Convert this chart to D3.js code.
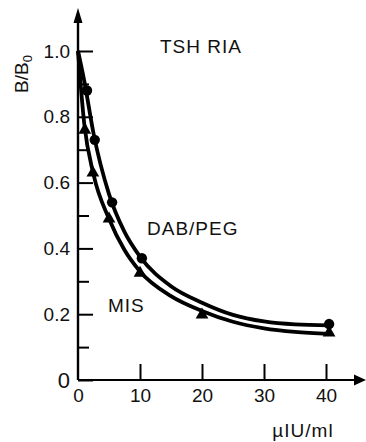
<!DOCTYPE html>
<html>
<head>
<meta charset="utf-8">
<script src="https://cdn.jsdelivr.net/npm/d3@7"></script>
<style>
  html, body { margin: 0; padding: 0; background: #fff; }
  svg { display: block; }
  text { font-family: "Liberation Sans", Arial, sans-serif; fill: #111; }
</style>
</head>
<body>
<svg id="chart" width="366" height="442"></svg>
<script>
// Measured points: DAB/PEG (filled circles) and MIS (filled triangles)
const dabDose = [1.45, 2.7, 5.5, 10.3, 40.5];
const dabB = [0.88, 0.73, 0.54, 0.37, 0.17];
const misDose = [1.1, 2.4, 5.0, 10.0, 20.0, 40.5];
const misB = [0.76, 0.63, 0.49, 0.325, 0.198, 0.143];

// Fitted standard curves
const curveDose = [0, 1, 2.5, 5, 7.5, 10, 15, 20, 25, 30, 35, 40.5];
const dabCurve = [1.0, 0.91, 0.75, 0.565, 0.45, 0.375, 0.285, 0.235, 0.198, 0.178, 0.169, 0.166];
const misCurve = [1.0, 0.78, 0.625, 0.49, 0.395, 0.33, 0.255, 0.21, 0.177, 0.157, 0.146, 0.14];

// Axis ticks
const xTicks = [0, 10, 20, 30, 40];
const yMajor = [0, 0.2, 0.4, 0.6, 0.8, 1.0];
const yMinor = [0.1, 0.3, 0.5, 0.7, 0.9];

const svg = d3.select("#chart");
const x = d3.scaleLinear().domain([0, 40]).range([78, 326]);
const y = d3.scaleLinear().domain([0, 1]).range([380, 51]);

// Axis lines with arrowheads
svg.append("line").attr("x1", x(0)).attr("x2", 358).attr("y1", y(0)).attr("y2", y(0))
  .attr("stroke", "#000").attr("stroke-width", 2.2);
svg.append("path").attr("d", `M366,${y(0)} L354,${y(0) - 5.5} L354,${y(0) + 5.5} Z`).attr("fill", "#000");
svg.append("line").attr("x1", x(0)).attr("x2", x(0)).attr("y1", y(0)).attr("y2", 20)
  .attr("stroke", "#000").attr("stroke-width", 2.4);
svg.append("path").attr("d", `M${x(0)},8 L${x(0) - 4.5},23 L${x(0) + 4.5},23 Z`).attr("fill", "#000");

// Y axis ticks (pointing into the plot) and labels
const yAxis = svg.append("g").attr("transform", `translate(${x(0)},0)`)
  .call(d3.axisLeft(y).tickValues(yMajor).tickSize(-15).tickPadding(8)
    .tickFormat(d => d === 0 ? "0" : d.toFixed(1)));
yAxis.select(".domain").remove();
yAxis.selectAll("line").attr("stroke", "#000").attr("stroke-width", 2);
yAxis.selectAll("text")
  .attr("font-size", d => d === 0 ? 22 : 19)
  .style("font-family", "Liberation Sans, Arial, sans-serif");

const yMinorAxis = svg.append("g").attr("transform", `translate(${x(0)},0)`)
  .call(d3.axisLeft(y).tickValues(yMinor).tickSize(-11).tickFormat(""));
yMinorAxis.select(".domain").remove();
yMinorAxis.selectAll("line").attr("stroke", "#000").attr("stroke-width", 2);

// X axis ticks (pointing up) and labels
const xAxis = svg.append("g").attr("transform", `translate(0,${y(0)})`)
  .call(d3.axisBottom(x).tickValues(xTicks).tickSize(-16).tickPadding(9).tickFormat(d3.format("d")));
xAxis.select(".domain").remove();
xAxis.selectAll("line").attr("stroke", "#000").attr("stroke-width", 2)
  .attr("display", d => d === 0 ? "none" : null);
xAxis.selectAll("text").attr("font-size", 19).style("font-family", "Liberation Sans, Arial, sans-serif");

// Curves
const line = d3.line().x(d => x(d[0])).y(d => y(d[1])).curve(d3.curveMonotoneX);
[dabCurve, misCurve].forEach(vals => {
  svg.append("path")
    .datum(curveDose.map((d, i) => [d, vals[i]]))
    .attr("d", line)
    .attr("fill", "none")
    .attr("stroke", "#000")
    .attr("stroke-width", 3.8)
    .attr("stroke-linejoin", "round");
});

// Markers
svg.append("g").selectAll("circle")
  .data(dabDose.map((d, i) => [d, dabB[i]]))
  .join("circle")
  .attr("cx", d => x(d[0])).attr("cy", d => y(d[1])).attr("r", 5.2).attr("fill", "#000");

const tri = d3.symbol().type(d3.symbolTriangle).size(70);
svg.append("g").selectAll("path")
  .data(misDose.map((d, i) => [d, misB[i]]))
  .join("path")
  .attr("d", tri)
  .attr("transform", d => `translate(${x(d[0])},${y(d[1])})`)
  .attr("fill", "#000");

// Annotations
svg.append("text").attr("x", 160).attr("y", 53).attr("font-size", 19).attr("letter-spacing", 1).text("TSH RIA");
svg.append("text").attr("x", 147).attr("y", 235).attr("font-size", 19).attr("letter-spacing", 1).text("DAB/PEG");
svg.append("text").attr("x", 108).attr("y", 312).attr("font-size", 19).attr("letter-spacing", 1).text("MIS");

// Axis titles
const yl = svg.append("text")
  .attr("transform", "translate(28,74) rotate(-90)")
  .attr("text-anchor", "middle").attr("font-size", 19);
yl.append("tspan").text("B/B");
yl.append("tspan").attr("font-size", 13).attr("dy", 4).text("0");

svg.append("text").attr("x", 303).attr("y", 437).attr("text-anchor", "middle")
  .attr("font-size", 19).attr("letter-spacing", 1).text("µIU/ml");
</script>
</body>
</html>
